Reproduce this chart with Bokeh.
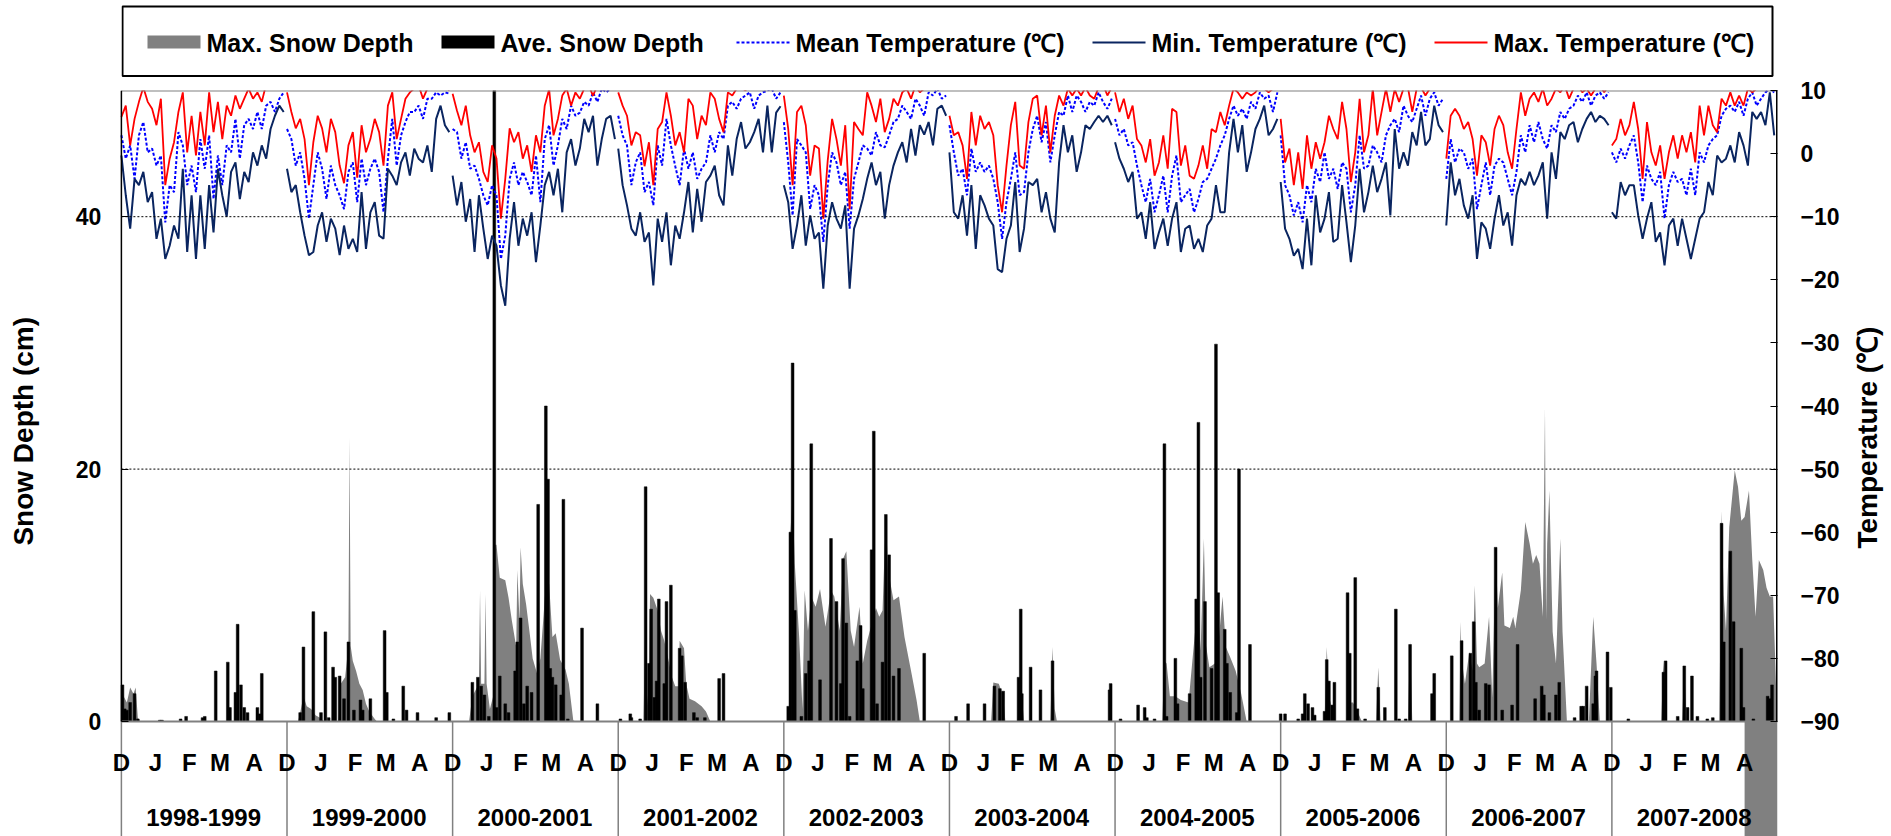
import numpy as np
from bokeh.plotting import figure
from bokeh.layouts import column, row
from bokeh.models import Range1d, LinearAxis, FixedTicker
from bokeh.core.properties import value
from bokeh.embed import file_html
from bokeh.resources import INLINE

FONT = "Liberation Sans"
GRAY = "#808080"
NAVY = "#0A2560"
BLUE = "#0000FF"
RED = "#FF0000"

# ---------------- categories ----------------
seasons = ["1998-1999", "1999-2000", "2000-2001", "2001-2002", "2002-2003",
           "2003-2004", "2004-2005", "2005-2006", "2006-2007", "2007-2008"]
month_letters = ["D", "J", "F", "M", "A"]
month_start_day = [0, 31, 62, 90, 121]      # day of season (Dec 1 = 0)
SEASON_LEN = 151                            # Dec 1 .. Apr 30
sample_day = list(range(0, 149, 4))         # temperature read every 4th day

snow_ticks = [0, 20, 40]
temp_ticks = [-90, -80, -70, -60, -50, -40, -30, -20, -10, 0, 10]

# ---------------- temperature (deg C) ----------------
max_t_9899 = [5.8, 7.6, 1.3, 5.5, 8.2, 10.5, 8.2, 7.1, 4.5, 8.7, -5.0, -0.8, 1.8, 6.6, 9.7, 0.2, 6.0, -0.3, 6.6, 1.3, 9.7, 3.4, 8.2, 2.3, 7.6, 6.0, 9.2, 7.1, 8.7, 10.3, 8.7, 9.7, 8.2, 11.0, 10.3, 11.0, 10.3, 11.5]
mean_t_9899 = [2.9, -0.8, 1.3, -4.0, 2.9, 5.0, 0.2, 0.8, -1.9, -0.3, -10.9, -5.0, -6.1, 3.4, 1.3, -5.0, -1.9, -6.1, 2.3, -2.4, 2.9, -7.2, -0.3, -5.0, 1.3, 0.2, 5.5, -0.8, 4.5, 5.5, 3.9, 6.6, 3.9, 7.6, 8.2, 6.6, 8.7, 9.7]
min_t_9899 = [-0.3, -6.6, -11.9, -4.0, -5.0, -2.9, -7.7, -6.1, -13.5, -10.3, -16.7, -14.6, -11.4, -13.5, -2.4, -15.6, -6.6, -16.7, -6.6, -15.1, -5.0, -12.5, -2.4, -6.6, -10.0, -2.9, -1.4, -7.2, -2.9, -4.5, 0.2, -1.9, 1.3, -0.8, 3.9, 6.0, 7.6, 6.6]

max_t_9900 = [9.7, 6.6, 4.0, 5.5, 2.3, -5.0, 1.8, 6.0, 4.0, 0.2, 5.5, 3.4, -1.9, -4.7, 1.3, 3.4, -3.8, 4.5, 0.2, 2.3, 5.5, 3.4, -1.9, 7.6, 9.7, 2.3, 5.5, 8.7, 9.7, 10.3, 10.8, 8.7, 10.3, 10.8, 11.0, 10.5, 11.0, 10.0]
mean_t_9900 = [3.9, 2.3, -1.9, 0.2, -4.0, -10.3, -5.0, 0.2, -2.4, -7.2, -1.9, -5.0, -6.6, -8.8, -2.9, -1.4, -7.7, -0.8, -5.0, -2.4, -0.8, -2.9, -9.3, -0.8, 5.5, -1.9, 2.9, 5.0, 6.6, 6.6, 7.6, 5.5, 8.7, 8.7, 9.7, 9.2, 9.7, 9.5]
min_t_9900 = [-2.4, -6.1, -5.0, -9.3, -13.0, -16.1, -15.6, -11.4, -9.3, -14.0, -10.3, -11.9, -16.1, -11.4, -15.1, -13.5, -15.6, -6.1, -15.1, -9.3, -7.7, -13.0, -13.5, -2.4, -3.5, -5.0, -1.4, 0.2, -3.5, 0.8, -0.8, -1.4, 1.3, -2.9, 5.5, 7.6, 4.5, 3.4]

max_t_0001 = [9.5, 6.8, 4.5, 7.6, 2.9, 0.2, 1.8, -2.9, -4.5, 1.3, -0.8, -10.3, -4.0, 4.0, 1.8, 3.4, -0.8, 1.3, -2.9, 2.9, 0.2, 7.6, 10.2, 2.9, 5.5, 9.2, 10.3, 7.6, 9.7, 8.7, 10.3, 10.8, 9.2, 10.8, 11.0, 10.3, 11.0, 10.3]
mean_t_0001 = [3.9, 3.4, -0.8, 1.8, -2.4, -1.9, -4.0, -6.6, -8.2, -5.0, -6.6, -16.7, -13.0, -4.0, -1.4, -5.0, -2.9, -4.5, -6.6, -0.3, -7.7, 2.3, 4.5, -1.9, 1.3, 5.5, 3.9, 7.6, 6.0, 6.5, 8.2, 7.6, 9.7, 8.2, 10.3, 9.7, 10.3, 10.8]
min_t_0001 = [-3.5, -8.2, -4.5, -10.8, -7.2, -15.6, -6.6, -11.9, -16.7, -13.0, -14.6, -20.9, -24.1, -13.5, -7.7, -14.6, -10.3, -13.0, -9.3, -17.2, -11.4, -5.0, -2.9, -6.6, -2.4, -9.3, 0.2, 2.3, -1.9, 0.8, 5.5, 3.4, 6.0, -1.9, 2.3, 5.5, 6.0, 2.3]

max_t_0102 = [9.7, 7.6, 6.0, 1.3, 3.4, 2.9, -2.0, 1.8, -5.0, 3.9, 5.0, 9.7, 6.0, 1.3, 3.4, 0.2, 8.7, 7.6, 2.3, 6.0, 4.5, 9.7, 8.7, 5.5, 3.4, 9.7, 9.2, 10.3, 10.5, 10.0, 11.0, 10.5, 11.0, 10.5, 11.5, 11.0, 12.0, 11.5]
mean_t_0102 = [6.0, 2.9, 1.3, -5.0, -1.4, 0.2, -6.1, -4.5, -8.2, 1.3, -1.9, 5.5, 1.3, -2.0, -5.0, 0.8, -2.4, 0.2, -4.0, -2.4, -1.4, 2.9, 0.2, 3.4, 2.3, 7.6, 8.2, 7.1, 8.7, 9.2, 9.7, 7.1, 9.2, 9.7, 10.0, 10.3, 8.7, 9.7]
min_t_0102 = [0.8, -5.0, -8.2, -11.9, -13.0, -9.3, -14.0, -12.5, -20.9, -10.3, -14.0, -9.3, -17.7, -11.4, -13.5, -9.3, -4.5, -12.5, -5.6, -10.8, -4.5, -3.5, -1.9, -6.6, -8.2, 1.3, -3.5, 2.3, 5.0, 0.8, 1.8, 3.4, 5.5, 0.2, 7.6, 0.2, 6.5, 7.5]

max_t_0203 = [9.2, 3.9, -5.0, 6.6, 7.6, 4.5, -3.5, 1.3, 0.8, -10.3, -1.1, 5.5, 2.3, -1.9, 4.5, -8.8, 5.0, 3.9, 2.9, 9.7, 7.6, 5.0, 8.7, 3.4, 5.5, 8.7, 7.6, 9.7, 10.3, 8.7, 10.8, 9.7, 10.3, 11.0, 10.3, 11.0, 10.3, 11.0]
mean_t_0203 = [5.0, -1.4, -9.8, 2.3, 1.3, 0.2, -8.8, -5.0, -6.6, -14.0, -5.0, 0.2, -1.4, -5.0, -2.9, -11.9, -4.0, -1.4, 1.3, 0.8, -0.3, 3.4, 1.3, 1.0, 2.9, 5.0, 5.5, 7.6, 6.6, 5.5, 8.7, 7.6, 6.0, 9.7, 9.2, 10.3, 8.7, 9.2]
min_t_0203 = [-5.0, -7.7, -15.1, -11.4, -6.6, -14.6, -9.8, -13.5, -12.5, -21.4, -11.4, -7.7, -10.3, -11.9, -8.2, -21.4, -11.9, -9.8, -7.2, -4.0, -1.4, -5.0, -2.9, -10.3, -5.0, -1.9, 0.2, 1.8, -1.4, 3.9, -0.3, 4.5, 3.0, 5.0, 1.3, 7.1, 7.6, 6.0]

max_t_0304 = [6.0, 2.9, 3.4, 1.3, -4.0, 6.6, 1.3, 6.0, 3.9, 5.0, 2.9, -5.0, -9.3, -1.9, 4.5, 8.2, -1.9, -2.4, 5.0, 8.7, 9.2, 2.9, 7.6, 0.2, 6.0, 9.2, 7.6, 10.3, 9.2, 10.3, 9.2, 10.5, 9.2, 8.7, 10.5, 11.0, 9.2, 10.5]
mean_t_0304 = [4.5, 0.2, -3.5, -2.4, -6.6, 0.8, -2.9, -1.4, -2.9, -1.9, -4.0, -7.7, -13.5, -7.7, -4.0, 0.2, -6.6, -6.1, 0.2, 3.9, 6.0, 1.8, 5.0, -1.4, 2.9, 6.6, 6.0, 9.2, 6.6, 9.2, 8.2, 6.6, 8.2, 7.6, 9.7, 8.2, 7.1, 8.7]
min_t_0304 = [0.2, -9.3, -10.3, -6.6, -13.0, -5.0, -15.1, -6.6, -8.2, -10.3, -11.4, -18.3, -18.8, -13.5, -11.4, -4.5, -15.6, -11.9, -4.5, -5.0, -4.0, -9.3, -6.1, -10.3, -12.5, -1.4, 4.5, 0.2, 2.9, -2.9, 0.2, 4.5, 3.9, 5.0, 6.0, 5.0, 6.0, 4.5]

max_t_0405 = [9.7, 6.6, 8.7, 5.5, 7.6, 2.3, 1.3, -1.4, 2.3, -3.5, -1.4, 2.9, -2.4, 7.1, 6.6, -1.9, 1.3, -3.5, -4.0, -1.9, 1.3, -2.4, 3.9, 3.4, 6.6, 4.5, 7.6, 10.3, 9.7, 8.7, 9.7, 9.2, 9.7, 10.8, 10.3, 9.7, 10.3, 11.0]
mean_t_0405 = [5.5, 2.9, 3.9, 1.3, 1.8, -1.9, -5.0, -7.7, -4.0, -9.3, -6.6, -3.5, -9.3, -3.5, -0.3, -7.7, -6.6, -5.6, -9.3, -7.2, -4.5, -4.0, -2.4, -0.8, 1.3, 2.9, 5.5, 7.6, 6.0, 7.1, 5.5, 8.2, 7.1, 9.7, 8.7, 9.2, 6.6, 9.7]
min_t_0405 = [1.8, -0.8, -2.4, -4.5, -2.9, -10.3, -9.3, -13.5, -7.7, -15.1, -12.5, -10.3, -14.6, -10.3, -7.7, -15.6, -11.9, -11.4, -15.1, -13.5, -15.6, -11.4, -10.3, -5.0, -9.3, -9.3, 0.2, 5.5, 0.2, 4.5, -2.9, 0.2, 3.9, 5.5, 7.6, 2.9, 3.9, 5.5]

max_t_0506 = [5.5, -1.4, 0.8, -5.0, 0.2, -5.6, 2.9, -2.4, 1.8, -0.8, 1.8, 6.0, 3.9, 2.3, 8.2, 3.9, -4.5, 0.2, 8.7, 0.2, 2.9, 10.3, 2.9, 6.6, 10.3, 6.6, 10.2, 8.2, 10.3, 10.5, 6.6, 10.3, 10.5, 9.2, 10.3, 10.6, 10.3, 10.8]
mean_t_0506 = [2.9, -5.0, -6.6, -9.8, -7.7, -10.9, -5.0, -7.7, -2.4, -4.5, 0.2, -4.0, -2.4, -5.6, -1.4, -2.4, -9.3, -5.0, 2.9, -2.4, -1.9, 1.3, 0.2, -1.4, 2.9, 4.5, 5.5, 3.4, 7.6, 6.0, 5.0, 7.1, 9.2, 6.0, 8.7, 9.7, 7.6, 8.7]
min_t_0506 = [-4.5, -11.9, -13.5, -16.2, -15.1, -18.3, -10.3, -17.7, -6.6, -12.5, -10.3, -6.1, -14.0, -13.5, -5.0, -10.9, -17.2, -11.4, -2.4, -9.3, -6.1, -1.9, -6.1, -4.0, -1.4, -9.8, 3.9, -2.4, 0.2, -1.9, 3.4, 1.3, 6.6, 1.3, 2.3, 7.6, 4.5, 3.4]

max_t_0607 = [-0.8, 6.0, 7.1, 6.0, 3.9, 5.0, 2.3, -3.5, 2.9, 1.8, -1.9, 3.9, 6.0, 4.5, 0.2, -2.4, 3.9, 9.7, 6.0, 8.7, 9.7, 8.2, 10.3, 7.6, 8.7, 10.3, 9.7, 10.8, 8.7, 10.3, 10.8, 9.7, 10.3, 9.2, 10.3, 10.8, 9.7, 10.8]
mean_t_0607 = [-4.0, 2.3, -1.4, 0.8, 0.2, -2.4, -0.8, -8.8, -5.0, -1.4, -6.6, -1.9, -0.8, -1.4, -4.0, -6.6, -2.9, 2.9, 0.2, 4.5, 1.8, 5.0, 2.3, 0.8, 4.5, 3.4, 6.6, 5.5, 7.1, 7.6, 9.2, 8.2, 9.7, 7.6, 9.2, 9.7, 8.7, 9.7]
min_t_0607 = [-11.4, -1.4, -6.6, -4.0, -8.2, -10.3, -6.6, -16.7, -10.9, -11.9, -15.1, -10.3, -6.6, -11.4, -9.3, -14.6, -6.6, -4.0, -5.0, -2.9, -5.0, -3.5, -1.4, -10.3, 0.2, -4.0, 3.4, 2.3, 4.5, 5.0, 1.8, 3.9, 5.5, 6.6, 5.0, 6.0, 5.5, 4.5]

max_t_0708 = [1.3, 2.3, 5.5, 2.9, 4.5, 8.2, 3.9, -4.0, 5.0, 0.2, -1.9, 1.3, -4.0, 0.2, 2.9, -0.8, 2.9, 0.2, 3.4, -1.4, 7.6, 2.9, 7.6, 4.5, 3.4, 8.7, 7.6, 9.7, 7.6, 9.2, 7.6, 10.3, 9.7, 10.3, 10.8, 10.3, 10.8, 10.3]
mean_t_0708 = [0.2, -1.4, 0.8, -0.8, 1.3, 2.9, -1.4, -7.7, -1.9, -4.0, -5.0, -2.9, -10.3, -5.0, -2.9, -4.5, -4.0, -6.6, -2.4, -6.6, 0.2, -1.4, 1.3, 2.3, 2.9, 6.0, 7.1, 7.6, 6.6, 8.2, 6.0, 8.7, 9.7, 7.6, 8.7, 9.7, 10.3, 9.7]
min_t_0708 = [-9.3, -10.3, -4.5, -6.6, -5.0, -5.0, -9.8, -13.5, -10.3, -7.7, -14.0, -12.5, -17.7, -11.4, -10.3, -14.6, -10.3, -13.5, -16.7, -13.5, -10.3, -9.3, -4.5, -6.6, -0.3, -1.4, -0.8, 1.3, -1.4, 3.4, 1.3, -1.9, 6.6, 5.5, 6.6, 4.5, 9.7, 2.9]

# ---------------- snow depth (day of season, cm) ----------------
ave_9899 = [(1, 2.9), (3, 1.0), (5, 0.9), (8, 1.5), (12, 2.2), (15, 0.2), (35, 0.1), (37, 0.1), (54, 0.2), (59, 0.4), (74, 0.3), (76, 0.4), (86, 4.0), (97, 4.7), (99, 1.1), (104, 2.3), (106, 7.7), (109, 2.9), (112, 1.1), (115, 0.7), (124, 1.1), (126, 0.6), (128, 3.8)]
ave_9900 = [(12, 0.7), (15, 5.9), (24, 8.7), (31, 0.7), (35, 7.1), (38, 0.3), (42, 4.3), (44, 3.5), (48, 3.6), (52, 1.8), (56, 6.3), (61, 0.9), (67, 1.7), (69, 0.9), (76, 1.8), (89, 7.2), (91, 2.3), (97, 0.2), (106, 2.8), (109, 0.9), (119, 0.7), (136, 0.3), (148, 0.7)]
ave_0001 = [(18, 3.1), (23, 3.5), (26, 2.8), (29, 2.1), (33, 0.4), (38, 52.0), (40, 1.1), (43, 3.6), (48, 1.4), (51, 0.7), (57, 4.0), (59, 6.3), (62, 8.2), (65, 1.4), (68, 2.8), (72, 2.3), (78, 17.2), (85, 25.0), (87, 19.2), (89, 4.2), (91, 3.5), (94, 2.9), (99, 2.1), (101, 17.6), (105, 0.2), (118, 7.4), (132, 1.4)]
ave_0102 = [(2, 0.2), (11, 0.6), (12, 0.3), (20, 0.2), (25, 18.6), (28, 4.6), (30, 8.9), (33, 1.9), (35, 3.2), (37, 9.7), (42, 3.0), (44, 9.5), (48, 10.8), (56, 5.8), (58, 5.2), (61, 3.1), (69, 0.7), (72, 0.3), (79, 0.3), (92, 3.4), (96, 3.8)]
ave_0203 = [(4, 1.2), (6, 15.0), (8, 28.4), (10, 8.8), (16, 0.4), (20, 3.8), (23, 4.8), (25, 22.0), (33, 3.3), (43, 14.5), (48, 9.5), (52, 3.0), (54, 12.9), (57, 7.8), (60, 0.4), (67, 4.8), (70, 7.6), (72, 2.6), (80, 13.6), (82, 23.0), (85, 1.4), (90, 4.7), (93, 16.4), (96, 13.2), (100, 3.6), (105, 4.2), (128, 5.4)]
ave_0304 = [(6, 0.4), (17, 1.4), (32, 1.4), (41, 2.8), (46, 2.6), (49, 2.4), (63, 3.5), (65, 8.9), (66, 2.2), (74, 4.3), (83, 2.5), (94, 4.8), (146, 2.5), (147, 3.0)]
ave_0405 = [(5, 0.2), (21, 1.3), (27, 1.1), (29, 0.3), (36, 0.2), (45, 22.0), (47, 0.4), (55, 5.0), (57, 1.4), (68, 2.2), (74, 9.7), (76, 23.7), (78, 3.5), (82, 9.5), (88, 4.2), (92, 29.9), (94, 10.2), (100, 7.3), (102, 4.6), (105, 2.3), (111, 0.7), (113, 20.0), (123, 6.1)]
ave_0506 = [(0, 0.6), (4, 0.6), (16, 0.2), (20, 0.6), (22, 2.2), (25, 1.4), (29, 1.1), (31, 0.5), (40, 0.8), (42, 4.9), (44, 3.2), (47, 1.3), (49, 3.1), (61, 10.2), (63, 5.4), (68, 11.4), (70, 1.0), (77, 0.2), (89, 2.7), (95, 1.1), (105, 8.9), (108, 0.2), (114, 0.2), (118, 6.1), (138, 2.2), (140, 3.8)]
ave_0607 = [(5, 5.2), (14, 6.4), (22, 5.4), (25, 7.9), (27, 3.1), (30, 0.9), (36, 3.0), (39, 2.9), (45, 13.8), (51, 0.9), (60, 1.3), (65, 6.1), (81, 1.8), (87, 2.8), (89, 2.1), (94, 0.7), (100, 2.1), (103, 3.1), (117, 0.3), (123, 1.2), (125, 1.2), (128, 2.8), (134, 1.4), (136, 3.6), (137, 4.0), (147, 5.5), (150, 2.7)]
ave_0708 = [(15, 0.2), (47, 3.9), (49, 4.8), (60, 0.4), (66, 4.4), (69, 1.1), (73, 3.6), (78, 0.4), (87, 0.2), (92, 0.3), (100, 15.7), (102, 6.3), (108, 13.5), (111, 7.9), (118, 5.8), (120, 1.1), (129, 0.2), (142, 2.0), (144, 1.8), (146, 2.9)]

max_9899 = [(0, 3.0), (2, 2.0), (5, 1.5), (8, 2.7), (11, 2.2), (13, 2.7), (15, 0.3), (17, 0.0)]
max_9900 = [(10, 0.0), (12, 0.7), (15, 2.0), (18, 1.2), (22, 1.0), (26, 0.5), (30, 0.3), (34, 0.0), (47, 0.0), (49, 3.0), (53, 3.5), (56, 6.0), (57, 22.5), (58, 6.0), (60, 4.8), (63, 4.0), (66, 3.0), (69, 2.5), (72, 1.4), (75, 0.8), (80, 0.2), (82, 0.0)]
max_0001 = [(15, 0.0), (18, 2.0), (24, 3.0), (25, 10.4), (26, 3.0), (29, 3.0), (30, 10.1), (31, 3.0), (34, 1.0), (37, 2.0), (38, 14.0), (40, 14.0), (43, 11.4), (48, 11.2), (51, 9.8), (54, 8.0), (58, 5.9), (59, 12.0), (61, 8.0), (62, 13.8), (64, 10.9), (67, 9.3), (70, 7.2), (73, 5.0), (77, 3.8), (80, 5.0), (83, 8.5), (85, 11.0), (88, 10.9), (91, 6.7), (94, 7.0), (98, 4.9), (103, 4.1), (106, 3.0), (110, 0.1), (112, 0.0)]
max_0102 = [(23, 0.0), (25, 9.0), (26, 1.0), (28, 3.0), (29, 10.1), (32, 9.8), (36, 8.8), (39, 7.2), (42, 6.4), (46, 4.8), (49, 3.5), (52, 2.8), (55, 2.8), (56, 6.4), (60, 5.8), (62, 3.0), (65, 1.8), (70, 1.6), (76, 1.2), (80, 0.8), (84, 0.0)]
max_0203 = [(3, 0.0), (5, 1.2), (6, 15.0), (8, 18.0), (10, 12.5), (14, 6.7), (17, 1.0), (19, 10.4), (22, 7.2), (25, 9.9), (29, 9.1), (33, 10.5), (38, 7.5), (43, 10.4), (46, 9.9), (51, 7.2), (54, 12.9), (57, 13.5), (61, 7.2), (64, 5.9), (69, 9.1), (72, 4.6), (76, 6.4), (81, 8.0), (84, 9.0), (87, 8.3), (90, 8.8), (93, 16.4), (95, 12.0), (100, 9.6), (105, 9.9), (110, 6.7), (116, 4.0), (121, 1.7), (124, 0.0)]
max_0304 = [(38, 0.0), (40, 3.1), (45, 3.0), (49, 2.0), (51, 0.0), (62, 0.0), (64, 2.0), (66, 2.0), (68, 0.0), (92, 0.0), (94, 5.9), (96, 1.0), (98, 0.0)]
max_0405 = [(43, 0.0), (45, 4.8), (47, 4.6), (50, 2.0), (55, 2.0), (60, 1.7), (67, 1.5), (73, 7.2), (76, 9.0), (78, 5.6), (81, 14.5), (83, 6.0), (86, 4.3), (91, 4.6), (94, 5.9), (98, 9.9), (101, 5.9), (105, 5.1), (110, 4.0), (115, 2.2), (120, 0.0)]
max_0506 = [(40, 0.0), (42, 5.9), (44, 2.0), (47, 1.0), (50, 0.0), (60, 0.0), (62, 1.5), (66, 1.5), (70, 0.8), (74, 0.0), (87, 0.0), (89, 4.3), (91, 0.0), (116, 0.0), (118, 6.4), (120, 0.0)]
max_0607 = [(12, 0.0), (13, 7.9), (14, 5.0), (17, 3.0), (21, 5.5), (24, 4.0), (26, 10.8), (28, 4.6), (30, 4.3), (35, 4.6), (39, 8.3), (42, 1.9), (45, 13.8), (47, 9.0), (51, 11.8), (53, 7.6), (58, 7.4), (61, 8.3), (63, 7.4), (68, 10.4), (72, 15.8), (76, 14.1), (79, 12.5), (82, 13.2), (85, 12.5), (88, 8.3), (90, 24.9), (91, 8.0), (92, 14.1), (94, 18.3), (97, 7.1), (100, 4.6), (104, 14.5), (106, 7.1), (110, 0.0), (130, 0.0), (134, 8.3), (137, 4.6), (140, 0.0)]
max_0708 = [(45, 0.0), (47, 4.8), (50, 0.0), (64, 0.0), (66, 4.4), (68, 0.0), (98, 0.0), (100, 16.7), (102, 10.0), (104, 7.2), (107, 15.4), (112, 19.9), (115, 18.6), (118, 15.9), (121, 16.2), (125, 18.3), (128, 12.8), (131, 8.3), (134, 12.8), (138, 12.0), (141, 10.6), (144, 9.9), (147, 9.9), (150, 2.0)]

max_temp = [max_t_9899, max_t_9900, max_t_0001, max_t_0102, max_t_0203, max_t_0304, max_t_0405, max_t_0506, max_t_0607, max_t_0708]
mean_temp = [mean_t_9899, mean_t_9900, mean_t_0001, mean_t_0102, mean_t_0203, mean_t_0304, mean_t_0405, mean_t_0506, mean_t_0607, mean_t_0708]
min_temp = [min_t_9899, min_t_9900, min_t_0001, min_t_0102, min_t_0203, min_t_0304, min_t_0405, min_t_0506, min_t_0607, min_t_0708]
ave_snow = [ave_9899, ave_9900, ave_0001, ave_0102, ave_0203, ave_0304, ave_0405, ave_0506, ave_0607, ave_0708]
max_snow = [max_9899, max_9900, max_0001, max_0102, max_0203, max_0304, max_0405, max_0506, max_0607, max_0708]

N_SEASONS = len(seasons)
N_DAYS = SEASON_LEN * N_SEASONS
SNOW_TOP = 50
TEMP_LO, TEMP_HI = -90, 10


def season_lines(series):
    xs, ys = [], []
    for s, vals in enumerate(series):
        for d, v in zip(sample_day, vals):
            xs.append(s * SEASON_LEN + d)
            ys.append(v)
        xs.append(np.nan)
        ys.append(np.nan)
    return np.array(xs, dtype=float), np.array(ys, dtype=float)


def season_points(series):
    xs, ys = [], []
    for s, pts in enumerate(series):
        for d, v in pts:
            xs.append(s * SEASON_LEN + d)
            ys.append(v)
    return np.array(xs, dtype=float), np.array(ys, dtype=float)


# ---------------- layout constants (px) ----------------
W, H = 1891, 836
LTITLE_W, RTITLE_W = 45, 49
PLOT_L, PLOT_R = 121, 1780            # page x of the value area
FRAME_L = 60                          # frame starts left of the value area (room for labels)
PLOT_W = PLOT_R - PLOT_L
MAIN_W = W - LTITLE_W - RTITLE_W
LEG_H = 77
PLOT_T = 90                           # page y of the value area top
PLOT_H = 631
MAIN_TOP = PLOT_T - LEG_H
BELOW = H - PLOT_T - PLOT_H           # category band under the value area
MAIN_H = H - LEG_H

days_per_px = N_DAYS / PLOT_W
x_lo = -(PLOT_L - FRAME_L) * days_per_px
snow_lo = -BELOW * SNOW_TOP / PLOT_H
temp_lo = TEMP_LO - BELOW * (TEMP_HI - TEMP_LO) / PLOT_H

# ---------------- main plot ----------------
p = figure(width=MAIN_W, height=MAIN_H, x_range=Range1d(x_lo, N_DAYS),
           y_range=Range1d(snow_lo, SNOW_TOP),
           output_backend="svg", toolbar_location=None,
           x_axis_location=None, y_axis_location=None,
           min_border_left=FRAME_L - LTITLE_W, min_border_right=W - RTITLE_W - PLOT_R,
           min_border_top=MAIN_TOP, min_border_bottom=0)
p.extra_y_ranges = {"temp": Range1d(temp_lo, TEMP_HI)}
p.grid.visible = False
p.outline_line_color = None

ax, ay = season_points(max_snow)
p.varea(x=ax, y1=np.zeros_like(ay), y2=ay, fill_color=GRAY, fill_alpha=1.0)

bx, by = season_points(ave_snow)
p.vbar(x=bx, top=by, width=2.5, fill_color="black", line_color="black", line_width=0.5)

mx, my = season_lines(mean_temp)
p.line(mx, my, y_range_name="temp", line_color=BLUE, line_width=2, line_dash="3 2")
nx, ny = season_lines(min_temp)
p.line(nx, ny, y_range_name="temp", line_color=NAVY, line_width=2)
rx, ry = season_lines(max_temp)
p.line(rx, ry, y_range_name="temp", line_color=RED, line_width=1.8)

# dotted gridlines, top and zero lines
gl = snow_ticks[1:]
p.segment(x0=[0] * len(gl), x1=[N_DAYS] * len(gl), y0=gl, y1=gl,
          line_color="black", line_dash="2 2", line_width=1)
p.segment(x0=[0, 0], x1=[N_DAYS, N_DAYS], y0=[0, SNOW_TOP], y1=[0, SNOW_TOP],
          line_color=GRAY, line_width=2)

# season separators in the category band
sep_x = [s * SEASON_LEN for s in range(N_SEASONS)]
p.segment(x0=sep_x, x1=sep_x, y0=[0] * N_SEASONS, y1=[snow_lo] * N_SEASONS,
          line_color=GRAY, line_width=1.5)
# the max-snow-depth fill of the last April runs off below the axis in the original
off_start = (N_SEASONS - 1) * SEASON_LEN + month_start_day[-1]
p.quad(left=[off_start], right=[N_DAYS], bottom=[snow_lo], top=[0],
       fill_color=GRAY, line_color=None)

# plot sides (black, value area only)
p.segment(x0=[0], x1=[0], y0=[0], y1=[SNOW_TOP], line_color="black", line_width=1.5)
p.segment(x0=[N_DAYS], x1=[N_DAYS], y0=[0], y1=[SNOW_TOP], line_color="black", line_width=3)

# y axes
ly = LinearAxis(fixed_location=0, ticker=FixedTicker(ticks=snow_ticks))
p.add_layout(ly, "left")
ra = LinearAxis(y_range_name="temp", ticker=FixedTicker(ticks=temp_ticks))
p.add_layout(ra, "right")
for a, stand in ((ly, 20), (ra, 23)):
    a.axis_line_color = None
    a.major_tick_in = 7
    a.major_tick_out = 0
    a.major_tick_line_color = "black"
    a.minor_tick_line_color = None
    a.major_label_standoff = stand
    a.major_label_text_font = FONT
    a.major_label_text_font_style = "bold"
    a.major_label_text_font_size = "23px"
    a.major_label_text_color = "black"

# category axes: month letters and season names, fixed at the zero line
month_ticks = [s * SEASON_LEN + d for s in range(N_SEASONS) for d in month_start_day]
season_ticks = [s * SEASON_LEN + SEASON_LEN // 2 for s in range(N_SEASONS)]
xm = LinearAxis(fixed_location=0, ticker=FixedTicker(ticks=month_ticks))
xm.major_label_overrides = {t: month_letters[i % len(month_letters)] for i, t in enumerate(month_ticks)}
xs_ = LinearAxis(fixed_location=0, ticker=FixedTicker(ticks=season_ticks))
xs_.major_label_overrides = {t: name for t, name in zip(season_ticks, seasons)}
p.add_layout(xm, "below")
p.add_layout(xs_, "below")
for a, stand in ((xm, 27), (xs_, 87)):
    a.axis_line_color = None
    a.major_tick_out = 0
    a.major_tick_in = 0
    a.major_tick_line_color = None
    a.minor_tick_line_color = None
    a.major_label_standoff = stand
    a.major_label_text_font = FONT
    a.major_label_text_font_style = "bold"
    a.major_label_text_font_size = "24px"
    a.major_label_text_color = "black"


# ---------------- axis titles (rotated, reading bottom to top) ----------------
def title_strip(width, yr, y, text, name):
    f = figure(width=width, height=MAIN_H, x_range=Range1d(0, width), y_range=yr,
               output_backend="svg", toolbar_location=None, x_axis_location=None,
               y_axis_location=None, min_border_left=0, min_border_right=0,
               min_border_top=MAIN_TOP, min_border_bottom=0, name=name)
    f.grid.visible = False
    f.outline_line_color = None
    f.text(x=[width / 2], y=[y], text=[text], angle=90, angle_units="deg",
           text_align="center", text_baseline="middle", text_font=value(FONT),
           text_font_style="bold", text_font_size="28px", text_color="black")
    return f


lt = title_strip(LTITLE_W, p.y_range, 23.0, "Snow Depth (cm)", "ltitle")
rt = title_strip(RTITLE_W, p.extra_y_ranges["temp"], -45.0, "Temperature (℃)", "rtitle")

# ---------------- legend strip ----------------
lg = figure(width=W, height=LEG_H, x_range=Range1d(0, PLOT_W), y_range=Range1d(LEG_H, 0),
            output_backend="svg", toolbar_location=None, x_axis_location=None,
            y_axis_location=None, min_border_left=PLOT_L, min_border_right=W - PLOT_R,
            min_border_top=0, min_border_bottom=0)
lg.grid.visible = False
lg.outline_line_color = None
lg.quad(left=[1], right=[PLOT_W - 8], top=[6], bottom=[LEG_H - 1.5],
        fill_color=None, line_color="black", line_width=2)

legend_items = [("Max. Snow Depth", "patch", GRAY, None),
                ("Ave. Snow Depth", "patch", "black", None),
                ("Mean Temperature (℃)", "line", BLUE, "3 2"),
                ("Min. Temperature (℃)", "line", NAVY, None),
                ("Max. Temperature (℃)", "line", RED, None)]
item_x = [26, 320, 615, 971, 1313]
GLYPH_W, YC = 53, 42
for (lab, kind, col, dash), x0 in zip(legend_items, item_x):
    if kind == "patch":
        lg.quad(left=[x0], right=[x0 + GLYPH_W], top=[YC - 7], bottom=[YC + 6],
                fill_color=col, line_color=None)
    else:
        kw = dict(line_dash=dash) if dash else {}
        lg.line([x0, x0 + GLYPH_W], [YC, YC], line_color=col, line_width=2, **kw)
    lg.text(x=[x0 + GLYPH_W + 6], y=[YC], text=[lab], text_baseline="middle",
            text_font=value(FONT), text_font_style="bold", text_font_size="25px",
            text_color="black")

layout = column(lg, row(lt, p, rt, spacing=0), spacing=0)
open("out.html", "w").write(file_html(layout, INLINE))
